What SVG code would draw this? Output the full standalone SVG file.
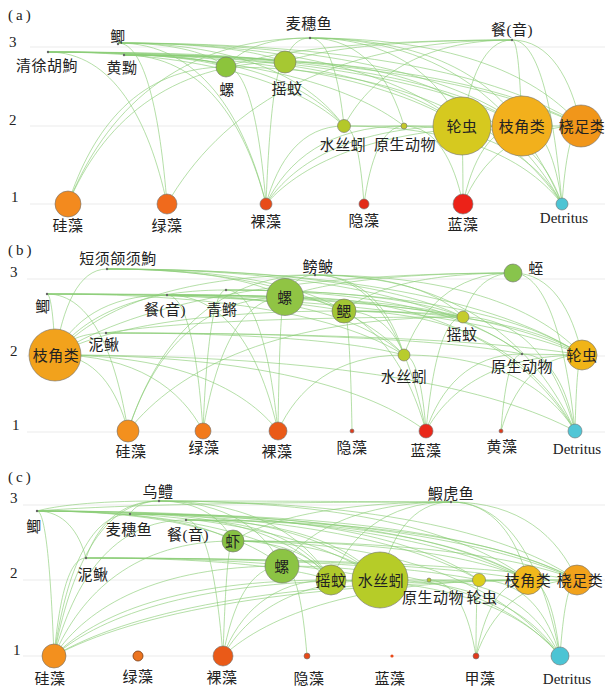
<svg xmlns="http://www.w3.org/2000/svg" width="611" height="688" viewBox="0 0 611 688">
<style>
.bg{fill:#ffffff}
.grid{stroke:#ebebeb;stroke-width:1}
.e{fill:none;stroke:#8acd76;stroke-width:0.8;stroke-opacity:0.8}
.nd{stroke:#707070;stroke-width:0.6}
.dot{fill:#666666}
.t{font-family:"Liberation Serif","Noto Sans CJK SC",serif;font-size:15px;fill:#222222;text-anchor:middle;letter-spacing:0.5px}
.n{font-family:"Liberation Serif",serif;font-size:15px;fill:#222222}
.d{font-family:"Liberation Serif",serif;font-size:15px;fill:#222222;text-anchor:middle}
.p{font-family:"Liberation Serif",serif;font-size:15px;fill:#222222;letter-spacing:3px}
</style>
<rect class="bg" x="0" y="0" width="611" height="688"/>

<!-- ============ Panel (a) ============ -->
<g id="panel-a-frame">
<text class="p" x="8" y="20">(a)</text>
<text class="n" x="9" y="47">3</text>
<text class="n" x="9" y="125">2</text>
<text class="n" x="11" y="202">1</text>
<line class="grid" x1="30" y1="47" x2="605" y2="47"/>
<line class="grid" x1="30" y1="126" x2="605" y2="126"/>
<line class="grid" x1="30" y1="204" x2="605" y2="204"/>
</g>
<g id="edges-a" class="edges">
<path class="e" d="M48 52C146 52 199 59 226 67"/>
<path class="e" d="M48 52C178 52 249 56 285 62"/>
<path class="e" d="M48 52C211 52 300 85 344 126"/>
<path class="e" d="M48 52C276 52 400 85 462 126"/>
<path class="e" d="M48 52C309 52 451 85 522 126"/>
<path class="e" d="M48 52C341 52 501 85 581 126"/>
<path class="e" d="M48 52C113 52 149 120 167 204"/>
<path class="e" d="M48 52C244 52 351 85 404 126"/>
<path class="e" d="M118 43C177 43 210 54 226 67"/>
<path class="e" d="M118 43C210 43 260 52 285 62"/>
<path class="e" d="M118 43C242 43 310 80 344 126"/>
<path class="e" d="M118 43C307 43 410 80 462 126"/>
<path class="e" d="M118 43C340 43 461 80 522 126"/>
<path class="e" d="M118 43C373 43 512 80 581 126"/>
<path class="e" d="M118 43C199 43 244 115 266 204"/>
<path class="e" d="M118 43C145 43 160 115 167 204"/>
<path class="e" d="M124 55C180 55 211 60 226 67"/>
<path class="e" d="M124 55C213 55 261 58 285 62"/>
<path class="e" d="M124 55C245 55 311 87 344 126"/>
<path class="e" d="M124 55C310 55 411 87 462 126"/>
<path class="e" d="M124 55C343 55 462 87 522 126"/>
<path class="e" d="M124 55C375 55 512 87 581 126"/>
<path class="e" d="M124 55C202 55 245 122 266 204"/>
<path class="e" d="M310 38C296 38 289 49 285 62"/>
<path class="e" d="M310 38C329 38 339 78 344 126"/>
<path class="e" d="M310 38C362 38 390 78 404 126"/>
<path class="e" d="M310 38C394 38 439 78 462 126"/>
<path class="e" d="M310 38C427 38 490 78 522 126"/>
<path class="e" d="M310 38C459 38 540 78 581 126"/>
<path class="e" d="M310 38C177 38 104 113 68 204"/>
<path class="e" d="M310 38C264 38 239 51 226 67"/>
<path class="e" d="M310 38C449 38 524 113 562 204"/>
<path class="e" d="M512 40C355 40 269 52 226 67"/>
<path class="e" d="M512 40C387 40 319 50 285 62"/>
<path class="e" d="M512 40C420 40 369 79 344 126"/>
<path class="e" d="M512 40C484 40 470 79 462 126"/>
<path class="e" d="M512 40C518 40 520 79 522 126"/>
<path class="e" d="M512 40C550 40 571 79 581 126"/>
<path class="e" d="M512 40C322 40 219 114 167 204"/>
<path class="e" d="M512 40C540 40 554 114 562 204"/>
<path class="e" d="M226 67C139 67 92 129 68 204"/>
<path class="e" d="M226 67C248 67 260 129 266 204"/>
<path class="e" d="M226 67C411 67 512 129 562 204"/>
<path class="e" d="M285 62C275 62 269 126 266 204"/>
<path class="e" d="M285 62C437 62 520 126 562 204"/>
<path class="e" d="M285 62C166 62 101 126 68 204"/>
<path class="e" d="M344 126C355 126 361 161 364 204"/>
<path class="e" d="M344 126C301 126 278 161 266 204"/>
<path class="e" d="M344 126C464 126 529 161 562 204"/>
<path class="e" d="M404 126C382 126 370 161 364 204"/>
<path class="e" d="M404 126C436 126 454 161 463 204"/>
<path class="e" d="M404 126C491 126 538 161 562 204"/>
<path class="e" d="M404 126C328 126 287 161 266 204"/>
<path class="e" d="M462 126C462 126 463 161 463 204"/>
<path class="e" d="M462 126C517 126 547 161 562 204"/>
<path class="e" d="M462 126C354 126 295 161 266 204"/>
<path class="e" d="M344 126L462 126"/>
<path class="e" d="M522 126C544 126 556 161 562 204"/>
<path class="e" d="M522 126C490 126 472 161 463 204"/>
<path class="e" d="M522 126C381 126 304 161 266 204"/>
<path class="e" d="M581 126C571 126 565 161 562 204"/>
<path class="e" d="M581 126C516 126 481 161 463 204"/>
<path class="e" d="M581 126L462 126"/>
</g>
<g id="a-qingxuhuju"><circle class="dot" cx="48" cy="52" r="1.2"/><text class="t" x="47" y="71">清徐胡鮈</text></g>
<g id="a-ji"><circle class="dot" cx="118" cy="44" r="1.2"/><text class="t" x="118" y="42">鲫</text></g>
<g id="a-huangyou"><circle class="dot" cx="124" cy="55" r="1.2"/><text class="t" x="122" y="73">黄黝</text></g>
<g id="a-maisuiyu"><circle class="dot" cx="310" cy="38" r="1.2"/><text class="t" x="309" y="29">麦穗鱼</text></g>
<g id="a-can"><circle class="dot" cx="512" cy="40" r="1.2"/><text class="t" x="512" y="35">餐(音)</text></g>
<g id="a-luo"><circle class="nd" cx="226" cy="67" r="10" fill="#8cc43c"/><text class="t" x="227" y="95">螺</text></g>
<g id="a-yaowen"><circle class="nd" cx="285" cy="62" r="11" fill="#a6c832"/><text class="t" x="287" y="94">摇蚊</text></g>
<g id="a-shuisiyin"><circle class="nd" cx="344" cy="126" r="6.5" fill="#b4c82a"/><text class="t" x="343" y="150">水丝蚓</text></g>
<g id="a-yuansheng"><circle class="nd" cx="404" cy="126" r="3" fill="#c4c82a"/><text class="t" x="405" y="150">原生动物</text></g>
<g id="a-lunchong"><circle class="nd" cx="462" cy="126" r="29" fill="#d6c91f"/><text class="t" x="462" y="132">轮虫</text></g>
<g id="a-zhijiao"><circle class="nd" cx="522" cy="126" r="30" fill="#f2b01c"/><text class="t" x="522" y="132">枝角类</text></g>
<g id="a-raozu"><circle class="nd" cx="581" cy="126" r="21" fill="#f1961a"/><text class="t" x="582" y="132">桡足类</text></g>
<g id="a-guizao"><circle class="nd" cx="68" cy="204" r="13" fill="#f38a1e"/><text class="t" x="68" y="231">硅藻</text></g>
<g id="a-lvzao"><circle class="nd" cx="167" cy="204" r="10" fill="#f06a1c"/><text class="t" x="167" y="231">绿藻</text></g>
<g id="a-luozao"><circle class="nd" cx="266" cy="204" r="6" fill="#e84c18"/><text class="t" x="266" y="227">裸藻</text></g>
<g id="a-yinzao"><circle class="nd" cx="364" cy="204" r="5" fill="#e22a18"/><text class="t" x="364" y="226">隐藻</text></g>
<g id="a-lanzao"><circle class="nd" cx="463" cy="204" r="10" fill="#ec2218"/><text class="t" x="463" y="230">蓝藻</text></g>
<g id="a-detritus"><circle class="nd" cx="562" cy="204" r="6" fill="#4dc4d4"/><text class="d" x="564" y="223">Detritus</text></g>

<!-- ============ Panel (b) ============ -->
<g id="panel-b-frame">
<text class="p" x="8" y="255">(b)</text>
<text class="n" x="10" y="277">3</text>
<text class="n" x="10" y="356">2</text>
<text class="n" x="12" y="430">1</text>
<line class="grid" x1="27" y1="279" x2="605" y2="279"/>
<line class="grid" x1="27" y1="356" x2="605" y2="356"/>
<line class="grid" x1="27" y1="432" x2="605" y2="432"/>
</g>
<g id="edges-b" class="edges">
<path class="e" d="M107 269C78 269 63 308 55 355"/>
<path class="e" d="M47 294C51 294 54 321 55 355"/>
<path class="e" d="M167 295C105 295 72 322 55 355"/>
<path class="e" d="M226 290C132 290 81 319 55 355"/>
<path class="e" d="M315 275C172 275 94 311 55 355"/>
<path class="e" d="M106 333C78 333 63 343 55 355"/>
<path class="e" d="M513 273C261 273 124 310 55 355"/>
<path class="e" d="M344 311C185 311 98 331 55 355"/>
<path class="e" d="M107 269C205 269 258 282 285 297"/>
<path class="e" d="M107 269C237 269 308 288 344 311"/>
<path class="e" d="M107 269C303 269 410 291 463 317"/>
<path class="e" d="M107 269C368 269 511 308 582 355"/>
<path class="e" d="M107 269C270 269 359 308 404 355"/>
<path class="e" d="M107 269C335 269 460 307 522 354"/>
<path class="e" d="M47 294C178 294 249 295 285 297"/>
<path class="e" d="M47 294C210 294 299 302 344 311"/>
<path class="e" d="M47 294C276 294 401 304 463 317"/>
<path class="e" d="M47 294C341 294 502 321 582 355"/>
<path class="e" d="M47 294C243 294 350 321 404 355"/>
<path class="e" d="M47 294C92 294 116 356 128 431"/>
<path class="e" d="M167 295C232 295 267 296 285 297"/>
<path class="e" d="M167 295C330 295 419 305 463 317"/>
<path class="e" d="M167 295C395 295 520 322 582 355"/>
<path class="e" d="M167 295C297 295 368 322 404 355"/>
<path class="e" d="M167 295C187 295 198 356 203 431"/>
<path class="e" d="M167 295C228 295 261 356 278 431"/>
<path class="e" d="M226 290C356 290 427 302 463 317"/>
<path class="e" d="M226 290C422 290 529 319 582 355"/>
<path class="e" d="M226 290C389 290 478 319 522 354"/>
<path class="e" d="M226 290C213 290 206 353 203 431"/>
<path class="e" d="M226 290C255 290 270 353 278 431"/>
<path class="e" d="M315 275C299 275 290 285 285 297"/>
<path class="e" d="M315 275C396 275 441 294 463 317"/>
<path class="e" d="M315 275C462 275 542 311 582 355"/>
<path class="e" d="M315 275C364 275 391 311 404 355"/>
<path class="e" d="M315 275C212 275 156 345 128 431"/>
<path class="e" d="M315 275C376 275 409 345 426 431"/>
<path class="e" d="M315 275C458 275 536 345 575 431"/>
<path class="e" d="M463 317C267 317 160 324 106 333"/>
<path class="e" d="M106 333C270 333 359 343 404 355"/>
<path class="e" d="M106 333C368 333 511 343 582 355"/>
<path class="e" d="M106 333C335 333 460 342 522 354"/>
<path class="e" d="M513 273C388 273 319 284 285 297"/>
<path class="e" d="M513 273C420 273 369 290 344 311"/>
<path class="e" d="M513 273C453 273 420 310 404 355"/>
<path class="e" d="M513 273C547 273 566 344 575 431"/>
<path class="e" d="M513 273C486 273 470 293 463 317"/>
<path class="e" d="M513 273C551 273 572 310 582 355"/>
<path class="e" d="M285 297C199 297 152 357 128 431"/>
<path class="e" d="M285 297C240 297 215 357 203 431"/>
<path class="e" d="M285 297C281 297 279 357 278 431"/>
<path class="e" d="M285 297C445 297 531 357 575 431"/>
<path class="e" d="M285 297C363 297 405 357 426 431"/>
<path class="e" d="M344 311C348 311 351 365 352 431"/>
<path class="e" d="M344 311C409 311 445 314 463 317"/>
<path class="e" d="M344 311C475 311 546 331 582 355"/>
<path class="e" d="M344 311C471 311 540 365 575 431"/>
<path class="e" d="M344 311C377 311 395 331 404 355"/>
<path class="e" d="M463 317C525 317 558 368 575 431"/>
<path class="e" d="M463 317C443 317 432 368 426 431"/>
<path class="e" d="M463 317C279 317 178 368 128 431"/>
<path class="e" d="M404 355C416 355 423 389 426 431"/>
<path class="e" d="M404 355C498 355 549 389 575 431"/>
<path class="e" d="M404 355C335 355 297 389 278 431"/>
<path class="e" d="M522 354C510 354 504 389 501 431"/>
<path class="e" d="M522 354C469 354 440 389 426 431"/>
<path class="e" d="M522 354C551 354 567 389 575 431"/>
<path class="e" d="M582 355C578 355 576 389 575 431"/>
<path class="e" d="M582 355C537 355 513 389 501 431"/>
<path class="e" d="M582 355C496 355 449 389 426 431"/>
<path class="e" d="M582 355L522 354"/>
<path class="e" d="M55 355C95 355 117 389 128 431"/>
<path class="e" d="M55 355C178 355 245 389 278 431"/>
<path class="e" d="M55 355C341 355 497 389 575 431"/>
<path class="e" d="M55 355C259 355 370 389 426 431"/>
<path class="e" d="M55 355C136 355 181 389 203 431"/>
</g>
<g id="b-duanxu"><circle class="dot" cx="107" cy="269" r="1.2"/><text class="t" x="118" y="264">短须颌须鮈</text></g>
<g id="b-ji"><circle class="dot" cx="47" cy="294" r="1.2"/><text class="t" x="43" y="312">鲫</text></g>
<g id="b-can"><circle class="dot" cx="167" cy="295" r="1.2"/><text class="t" x="165" y="315">餐(音)</text></g>
<g id="b-qingjiang"><circle class="dot" cx="226" cy="290" r="1.2"/><text class="t" x="222" y="315">青鳉</text></g>
<g id="b-pangpi"><circle class="dot" cx="315" cy="275" r="1.2"/><text class="t" x="318" y="272">鳑鲏</text></g>
<g id="b-niqiu"><circle class="dot" cx="106" cy="333" r="1.2"/><text class="t" x="104" y="350">泥鳅</text></g>
<g id="b-zhijiao"><circle class="nd" cx="55" cy="355" r="26" fill="#f2a21c"/><text class="t" x="56" y="361">枝角类</text></g>
<g id="b-luo"><circle class="nd" cx="285" cy="297" r="18.5" fill="#90c444"/><text class="t" x="285" y="303">螺</text></g>
<g id="b-sai"><circle class="nd" cx="344" cy="311" r="12" fill="#a2c634"/><text class="t" x="344" y="317">鳃</text></g>
<g id="b-zhi"><circle class="nd" cx="513" cy="273" r="9" fill="#88c44c"/><text class="t" x="536" y="274">蛭</text></g>
<g id="b-yaowen"><circle class="nd" cx="463" cy="317" r="6" fill="#c4cc2c"/><text class="t" x="462" y="340">摇蚊</text></g>
<g id="b-shuisiyin"><circle class="nd" cx="404" cy="355" r="6" fill="#b8cc2c"/><text class="t" x="404" y="382">水丝蚓</text></g>
<g id="b-yuansheng"><circle class="dot" cx="522" cy="354" r="1.2"/><text class="t" x="522" y="372">原生动物</text></g>
<g id="b-lunchong"><circle class="nd" cx="582" cy="355" r="15" fill="#f0b418"/><text class="t" x="582" y="361">轮虫</text></g>
<g id="b-guizao"><circle class="nd" cx="128" cy="431" r="11" fill="#f3901e"/><text class="t" x="131" y="457">硅藻</text></g>
<g id="b-lvzao"><circle class="nd" cx="203" cy="431" r="8" fill="#f27a1c"/><text class="t" x="204" y="453">绿藻</text></g>
<g id="b-luozao"><circle class="nd" cx="278" cy="431" r="9" fill="#ea5a18"/><text class="t" x="277" y="457">裸藻</text></g>
<g id="b-yinzao"><circle class="nd" cx="352" cy="431" r="2" fill="#e03a1a"/><text class="t" x="352" y="453">隐藻</text></g>
<g id="b-lanzao"><circle class="nd" cx="426" cy="431" r="7" fill="#ea281a"/><text class="t" x="426" y="456">蓝藻</text></g>
<g id="b-huangzao"><circle class="nd" cx="501" cy="431" r="2" fill="#e03a1a"/><text class="t" x="502" y="452">黄藻</text></g>
<g id="b-detritus"><circle class="nd" cx="575" cy="431" r="7" fill="#50c6d6"/><text class="d" x="577" y="454">Detritus</text></g>

<!-- ============ Panel (c) ============ -->
<g id="panel-c-frame">
<text class="p" x="8" y="482">(c)</text>
<text class="n" x="10" y="503">3</text>
<text class="n" x="10" y="578">2</text>
<text class="n" x="13" y="655">1</text>
<line class="grid" x1="23" y1="505" x2="605" y2="505"/>
<line class="grid" x1="23" y1="580" x2="605" y2="580"/>
<line class="grid" x1="23" y1="656" x2="605" y2="656"/>
</g>
<g id="edges-c" class="edges">
<path class="e" d="M37 511C46 511 51 576 54 656"/>
<path class="e" d="M37 511C145 511 204 524 233 541"/>
<path class="e" d="M37 511C172 511 245 536 282 566"/>
<path class="e" d="M37 511C199 511 287 542 331 580"/>
<path class="e" d="M37 511C226 511 329 542 380 580"/>
<path class="e" d="M37 511C307 511 454 542 528 580"/>
<path class="e" d="M37 511C334 511 496 542 577 580"/>
<path class="e" d="M37 511C280 511 413 542 479 580"/>
<path class="e" d="M37 511C64 511 79 532 86 558"/>
<path class="e" d="M159 501C119 501 97 527 86 558"/>
<path class="e" d="M159 501C200 501 222 519 233 541"/>
<path class="e" d="M159 501C227 501 264 530 282 566"/>
<path class="e" d="M159 501C92 501 55 506 37 511"/>
<path class="e" d="M159 501C143 501 134 507 130 514"/>
<path class="e" d="M159 501C254 501 305 537 331 580"/>
<path class="e" d="M159 501C362 501 473 537 528 580"/>
<path class="e" d="M159 501C389 501 514 537 577 580"/>
<path class="e" d="M159 501C101 501 70 571 54 656"/>
<path class="e" d="M159 501C320 501 407 502 451 502"/>
<path class="e" d="M130 514C241 514 301 544 331 580"/>
<path class="e" d="M130 514C268 514 342 544 380 580"/>
<path class="e" d="M130 514C349 514 468 544 528 580"/>
<path class="e" d="M130 514C376 514 510 544 577 580"/>
<path class="e" d="M130 514C322 514 427 544 479 580"/>
<path class="e" d="M130 514C88 514 65 578 54 656"/>
<path class="e" d="M186 520C266 520 309 547 331 580"/>
<path class="e" d="M186 520C293 520 351 547 380 580"/>
<path class="e" d="M186 520C374 520 477 547 528 580"/>
<path class="e" d="M186 520C401 520 518 547 577 580"/>
<path class="e" d="M186 520C206 520 217 581 223 656"/>
<path class="e" d="M186 520C113 520 74 581 54 656"/>
<path class="e" d="M451 502C412 502 391 537 380 580"/>
<path class="e" d="M451 502C331 502 266 520 233 541"/>
<path class="e" d="M451 502C358 502 307 531 282 566"/>
<path class="e" d="M451 502C385 502 349 537 331 580"/>
<path class="e" d="M451 502C493 502 516 537 528 580"/>
<path class="e" d="M451 502C520 502 558 537 577 580"/>
<path class="e" d="M451 502C511 502 544 571 560 656"/>
<path class="e" d="M451 502C223 502 99 506 37 511"/>
<path class="e" d="M86 558C221 558 294 568 331 580"/>
<path class="e" d="M86 558C248 558 336 568 380 580"/>
<path class="e" d="M86 558C329 558 462 568 528 580"/>
<path class="e" d="M86 558C356 558 503 568 577 580"/>
<path class="e" d="M86 558C68 558 59 602 54 656"/>
<path class="e" d="M86 558C302 558 420 568 479 580"/>
<path class="e" d="M233 541C135 541 81 593 54 656"/>
<path class="e" d="M233 541C287 541 316 559 331 580"/>
<path class="e" d="M233 541C314 541 358 559 380 580"/>
<path class="e" d="M233 541C395 541 484 559 528 580"/>
<path class="e" d="M233 541C422 541 525 559 577 580"/>
<path class="e" d="M233 541C413 541 511 593 560 656"/>
<path class="e" d="M233 541C228 541 225 593 223 656"/>
<path class="e" d="M282 566C157 566 88 606 54 656"/>
<path class="e" d="M282 566C250 566 232 606 223 656"/>
<path class="e" d="M282 566C296 566 303 606 307 656"/>
<path class="e" d="M282 566C435 566 518 606 560 656"/>
<path class="e" d="M331 580C179 580 96 614 54 656"/>
<path class="e" d="M331 580C272 580 239 614 223 656"/>
<path class="e" d="M331 580C457 580 526 614 560 656"/>
<path class="e" d="M380 580C201 580 103 614 54 656"/>
<path class="e" d="M380 580C294 580 247 614 223 656"/>
<path class="e" d="M380 580C479 580 533 614 560 656"/>
<path class="e" d="M380 580L479 580"/>
<path class="e" d="M429 580C455 580 469 614 476 656"/>
<path class="e" d="M429 580C501 580 540 614 560 656"/>
<path class="e" d="M479 580C477 580 476 614 476 656"/>
<path class="e" d="M479 580C524 580 548 614 560 656"/>
<path class="e" d="M528 580C546 580 555 614 560 656"/>
<path class="e" d="M528 580C267 580 125 614 54 656"/>
<path class="e" d="M528 580C360 580 269 614 223 656"/>
<path class="e" d="M528 580C499 580 484 614 476 656"/>
<path class="e" d="M577 580C568 580 563 614 560 656"/>
<path class="e" d="M577 580L479 580"/>
<path class="e" d="M577 580C289 580 132 614 54 656"/>
<path class="e" d="M577 580C521 580 491 614 476 656"/>
</g>
<g id="c-ji"><circle class="dot" cx="37" cy="511" r="1.2"/><text class="t" x="34" y="532">鲫</text></g>
<g id="c-wuli"><circle class="dot" cx="159" cy="501" r="1.2"/><text class="t" x="158" y="497">乌鳢</text></g>
<g id="c-maisuiyu"><circle class="dot" cx="130" cy="514" r="1.2"/><text class="t" x="129" y="535">麦穗鱼</text></g>
<g id="c-can"><circle class="dot" cx="186" cy="520" r="1.2"/><text class="t" x="188" y="540">餐(音)</text></g>
<g id="c-xiahuyu"><circle class="dot" cx="451" cy="502" r="1.2"/><text class="t" x="451" y="499">鰕虎鱼</text></g>
<g id="c-niqiu"><circle class="dot" cx="86" cy="558" r="1.2"/><text class="t" x="93" y="580">泥鳅</text></g>
<g id="c-xia"><circle class="nd" cx="233" cy="541" r="11" fill="#86c044"/><text class="t" x="233" y="547">虾</text></g>
<g id="c-luo"><circle class="nd" cx="282" cy="566" r="17" fill="#8cc444"/><text class="t" x="282" y="572">螺</text></g>
<g id="c-yaowen"><circle class="nd" cx="331" cy="580" r="15" fill="#b0ca2c"/><text class="t" x="331" y="586">摇蚊</text></g>
<g id="c-shuisiyin"><circle class="nd" cx="380" cy="580" r="28" fill="#b6cc28"/><text class="t" x="381" y="586">水丝蚓</text></g>
<g id="c-yuansheng"><circle class="nd" cx="429" cy="580" r="2" fill="#b8c828"/><text class="t" x="433" y="603">原生动物</text></g>
<g id="c-lunchong"><circle class="nd" cx="479" cy="580" r="6.5" fill="#dccf1c"/><text class="t" x="482" y="603">轮虫</text></g>
<g id="c-zhijiao"><circle class="nd" cx="528" cy="580" r="14.5" fill="#f2b81c"/><text class="t" x="528" y="586">枝角类</text></g>
<g id="c-raozu"><circle class="nd" cx="577" cy="580" r="15" fill="#f2a21c"/><text class="t" x="580" y="586">桡足类</text></g>
<g id="c-guizao"><circle class="nd" cx="54" cy="656" r="12" fill="#f3901e"/><text class="t" x="50" y="684">硅藻</text></g>
<g id="c-lvzao"><circle cx="138" cy="656" r="5" fill="#ec7420" stroke="#7a3a10" stroke-width="0.8"/><text class="t" x="138" y="682">绿藻</text></g>
<g id="c-luozao"><circle class="nd" cx="223" cy="656" r="10" fill="#ea5a18"/><text class="t" x="222" y="683">裸藻</text></g>
<g id="c-yinzao"><circle class="nd" cx="307" cy="656" r="3" fill="#e64a18"/><text class="t" x="309" y="684">隐藻</text></g>
<g id="c-lanzao"><circle cx="392" cy="656" r="1.6" fill="#e84a1a"/><text class="t" x="390" y="684">蓝藻</text></g>
<g id="c-jiazao"><circle class="nd" cx="476" cy="656" r="3" fill="#e03a1a"/><text class="t" x="480" y="684">甲藻</text></g>
<g id="c-detritus"><circle class="nd" cx="560" cy="656" r="9" fill="#4cc4d4"/><text class="d" x="567" y="684">Detritus</text></g>
</svg>
